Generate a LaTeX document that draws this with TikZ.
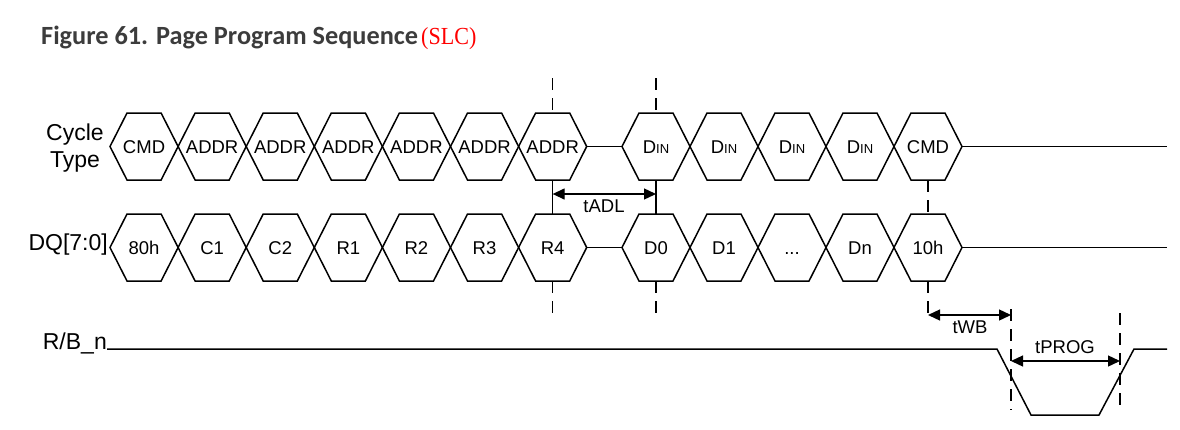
\documentclass[tikz,border=0pt]{standalone}
\usepackage{fontspec}
\setmainfont{Liberation Sans}
\newfontfamily\titlefont{Carlito}
\newfontfamily\slcfont{Liberation Serif}[FakeStretch=0.9]
\usetikzlibrary{arrows.meta,calc}
\definecolor{titlegray}{HTML}{3C3C3C}
\definecolor{slcred}{HTML}{FF0000}
\tikzset{
  wave/.style={line width=1.5pt, line join=miter},
  guide/.style={line width=1.3pt, dash pattern=on 12pt off 8pt},
  plainguide/.style={line width=1.3pt},
  dim/.style={line width=1.3pt, {Triangle[length=12pt,width=11pt]}-{Triangle[length=12pt,width=11pt]}},
  hexlabel/.style={font=\fontsize{18.5}{20}\selectfont, inner sep=0pt, anchor=base},
  siglabel/.style={font=\fontsize{23}{26}\selectfont, inner sep=0pt},
  dimlabel/.style={font=\fontsize{18.5}{20}\selectfont, inner sep=0pt, anchor=base},
}
\newcommand\dinlabel{D{\fontsize{13}{13}\selectfont IN}}
\newcommand\ellipslabel{...}
\newcommand\hexcell[3]{%
  \draw[wave] (#1,#3) -- ($(#1,#3)+(17,-33.5)$) -- ($(#2,#3)+(-17,-33.5)$) -- (#2,#3)
    -- ($(#2,#3)+(-17,33.5)$) -- ($(#1,#3)+(17,33.5)$) -- cycle;}
\begin{document}
\begin{tikzpicture}[x=1pt,y=-1pt]
\useasboundingbox (0,0) rectangle (1180,429);

% title
\node[anchor=base west, inner sep=0pt, text=titlegray] (title) at (41,44)
  {\titlefont\fontsize{26.3}{28}\selectfont\bfseries Figure 61. Page Program Sequence\kern3pt{\slcfont\mdseries\fontsize{24.5}{26}\selectfont\color{slcred}(SLC)}};

% signal labels
\node[siglabel, anchor=base] (lcycle) at (75,140) {Cycle};
\node[siglabel, anchor=base] (ltype) at (75,167) {Type};
\node[siglabel, anchor=base east] (ldq) at (108,250) {DQ[7:0]};
\node[siglabel, anchor=base east] (lrb) at (107,349) {R/B\_n};

% group 1 cells (address phase)
\foreach \ca/\cb [count=\i from 0] in {CMD/80h,ADDR/C1,ADDR/C2,ADDR/R1,ADDR/R2,ADDR/R3,ADDR/R4}{
  \pgfmathsetmacro\xa{110+68.1*\i}
  \pgfmathsetmacro\xb{110+68.1*(\i+1)}
  \pgfmathsetmacro\xm{110+68.1*(\i+0.5)}
  \hexcell{\xa}{\xb}{146.5}
  \hexcell{\xa}{\xb}{247.5}
  \node[hexlabel] (ct\i) at (\xm,153.1) {\ca};
  \node[hexlabel] (dq\i) at (\xm,254.1) {\cb};
}
% group 2 cells (data phase)
\foreach \ca/\cb [count=\i from 7] in {\dinlabel/D0,\dinlabel/D1,\dinlabel/\ellipslabel,\dinlabel/Dn,CMD/10h}{
  \pgfmathsetmacro\xa{622+68*(\i-7)}
  \pgfmathsetmacro\xb{622+68*(\i-6)}
  \pgfmathsetmacro\xm{622+68*(\i-6.5)}
  \hexcell{\xa}{\xb}{146.5}
  \hexcell{\xa}{\xb}{247.5}
  \node[hexlabel] (ct\i) at (\xm,153.1) {\ca};
  \node[hexlabel] (dq\i) at (\xm,254.1) {\cb};
}

% idle lines
\draw[wave] (587,146.5) -- (622,146.5);
\draw[wave] (962,146.5) -- (1167,146.5);
\draw[wave] (587,247.5) -- (622,247.5);
\draw[wave] (962,247.5) -- (1167,247.5);

% R/B_n
\draw[wave] (107,349) -- (997,349) -- (1031,415) -- (1099,415) -- (1134,349) -- (1167,349);

% guides
\foreach \gx in {552.65,656}{
  \draw[guide] (\gx,78) -- (\gx,113);
  \draw[plainguide] (\gx,180) -- (\gx,214);
  \draw[guide] (\gx,281) -- (\gx,318);
}
\draw[guide] (928,180) -- (928,214);
\draw[guide] (928,281) -- (928,316);
\draw[guide] (1011,309) -- (1011,410);
\draw[guide] (1120,313) -- (1120,410);

% dimension arrows
\coordinate (adlA) at (552.65,194);
\coordinate (adlB) at (656,194);
\draw[dim] (adlA) -- (adlB);
\node[dimlabel] (tadl) at (604,212) {tADL};

\coordinate (wbA) at (928,315);
\coordinate (wbB) at (1011,315);
\draw[dim] (wbA) -- (wbB);
\node[dimlabel] (twb) at (970,333) {tWB};

\coordinate (progA) at (1011,361);
\coordinate (progB) at (1120,361);
\draw[dim] (progA) -- (progB);
\node[dimlabel] (tprog) at (1065,353) {tPROG};
\end{tikzpicture}
\end{document}
